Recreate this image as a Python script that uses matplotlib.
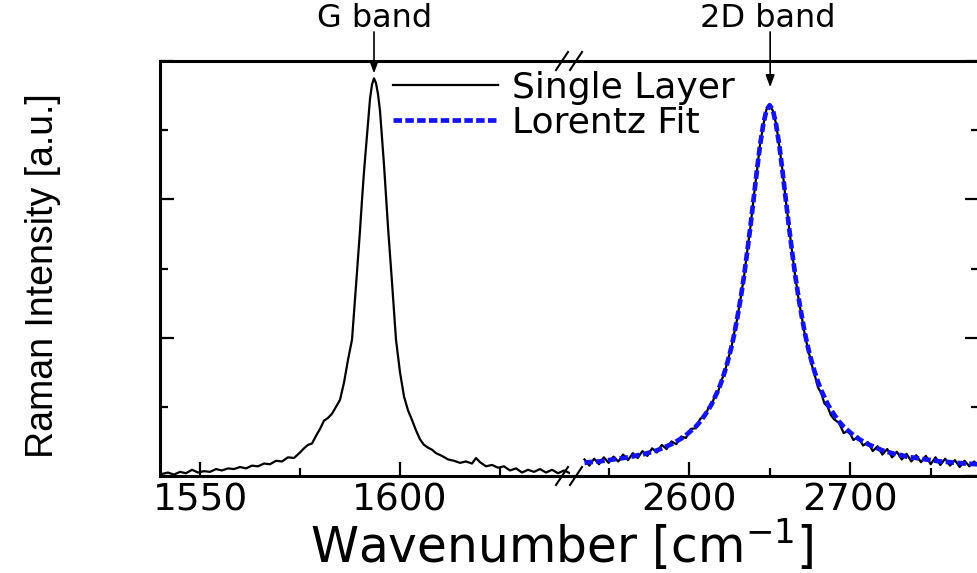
import matplotlib.pyplot as plt
from matplotlib.lines import Line2D
from matplotlib.ticker import MultipleLocator, NullFormatter

W, H = 977, 573

# G band, single layer spectrum (left part of the broken axis)
g_wavenumber = [1540.5, 1542, 1543.5, 1545, 1546.5, 1548, 1549.5, 1551, 1552.5, 1554,
                1555.5, 1557, 1558.5, 1560, 1561.5, 1563, 1564.5, 1566, 1567.5, 1569,
                1570.5, 1572, 1573.5, 1575, 1576, 1577, 1578, 1579, 1580, 1581,
                1582, 1583, 1584, 1585, 1586, 1587, 1588, 1589, 1590, 1590.5,
                1591, 1592, 1592.5, 1593, 1593.5, 1594, 1594.5, 1595, 1596, 1597,
                1598, 1599,
                1600, 1601, 1602, 1603, 1604, 1605, 1606, 1607, 1608, 1609,
                1610.5, 1612, 1613.5, 1615, 1616.5, 1618, 1619, 1620, 1621.5, 1623,
                1624.5, 1626, 1627.5, 1629, 1630.5, 1632, 1633.5, 1635, 1636.5, 1638,
                1639.5, 1641, 1642.5]
g_intensity = [0.03, 0.05, 0.02, 0.06, 0.04, 0.09, 0.05, 0.07, 0.06, 0.10,
               0.08, 0.11, 0.10, 0.13, 0.11, 0.15, 0.14, 0.18, 0.17, 0.22,
               0.21, 0.27, 0.26, 0.34, 0.40, 0.45, 0.47, 0.58, 0.68, 0.80,
               0.84, 0.90, 1.00, 1.10, 1.35, 1.68, 1.97, 2.75, 3.55, 3.99,
               4.40, 5.10, 5.45, 5.66, 5.75, 5.68, 5.52, 5.28, 4.50, 3.60,
               2.80, 1.97,
               1.50, 1.15, 0.95, 0.81, 0.66, 0.53, 0.45, 0.41, 0.38, 0.33,
               0.29, 0.24, 0.22, 0.19, 0.21, 0.18, 0.26, 0.20, 0.14, 0.16,
               0.12, 0.14, 0.08, 0.11, 0.05, 0.09, 0.06, 0.10, 0.05, 0.09,
               0.04, 0.08, 0.04]

# 2D band, single layer spectrum (right part)
d_wavenumber = [2535, 2538, 2541, 2544, 2547, 2550, 2553, 2556, 2559, 2562,
                2565, 2568, 2571, 2574, 2577, 2580, 2583, 2586, 2589, 2592,
                2595, 2598, 2601, 2604, 2607, 2610,
                2612, 2614, 2616, 2618, 2620, 2622, 2624, 2626, 2628, 2630,
                2632, 2634, 2636, 2638, 2640, 2642, 2644, 2646, 2648, 2650,
                2652, 2654, 2656, 2658, 2660, 2662, 2664, 2666, 2668, 2670,
                2672, 2674, 2676, 2678, 2680, 2682, 2684, 2686, 2688,
                2690, 2693, 2696, 2699, 2702, 2705, 2708, 2711, 2714, 2717,
                2720, 2723, 2726, 2729, 2732, 2735, 2738, 2741, 2744, 2747,
                2750, 2753, 2756, 2759, 2762, 2765, 2768, 2771, 2774, 2777, 2780]
d_intensity = [0.24, 0.15, 0.25, 0.17, 0.27, 0.19, 0.28, 0.21, 0.31, 0.23,
               0.33, 0.26, 0.36, 0.29, 0.40, 0.34, 0.45, 0.39, 0.50, 0.46,
               0.57, 0.55, 0.68, 0.69, 0.83, 0.86,
               0.99, 1.02, 1.17, 1.22, 1.38, 1.49, 1.68, 1.83, 2.07, 2.29,
               2.58, 2.87, 3.24, 3.59, 4.01, 4.39, 4.79, 5.07, 5.30, 5.36,
               5.28, 5.09, 4.77, 4.41, 3.99, 3.61, 3.22, 2.87, 2.55, 2.29,
               2.02, 1.82, 1.62, 1.46, 1.28, 1.20, 1.05, 1.00, 0.88,
               0.82, 0.77, 0.62, 0.66, 0.52, 0.57, 0.44, 0.49, 0.36, 0.43,
               0.31, 0.39, 0.27, 0.35, 0.24, 0.32, 0.21, 0.30, 0.20, 0.29,
               0.17, 0.27, 0.16, 0.25, 0.15, 0.23, 0.13, 0.22, 0.14, 0.21, 0.13]
# Lorentz fit of the 2D band, same wavenumbers
d_fit = [0.19, 0.20, 0.205, 0.21, 0.22, 0.23, 0.24, 0.25, 0.26, 0.27,
         0.283, 0.30, 0.31, 0.33, 0.35, 0.37, 0.40, 0.43, 0.46, 0.50,
         0.54, 0.59, 0.65, 0.71, 0.79, 0.89,
         0.96, 1.04, 1.14, 1.24, 1.36, 1.50, 1.66, 1.84, 2.05, 2.30,
         2.57, 2.88, 3.23, 3.60, 4.00, 4.40, 4.78, 5.08, 5.29, 5.36,
         5.29, 5.08, 4.78, 4.40, 4.00, 3.60, 3.23, 2.88, 2.57, 2.30,
         2.05, 1.84, 1.66, 1.50, 1.36, 1.24, 1.14, 1.04, 0.96,
         0.89, 0.79, 0.71, 0.65, 0.59, 0.54, 0.50, 0.46, 0.43, 0.40,
         0.37, 0.35, 0.33, 0.31, 0.30, 0.28, 0.27, 0.26, 0.25, 0.24,
         0.23, 0.22, 0.21, 0.205, 0.20, 0.19, 0.187, 0.18, 0.177, 0.173, 0.169]

g_peak = 1593.5
d_peak = 2650.3

BLUE = '#1414f0'
FONT = 'DejaVu Sans'


def px_rect(x0, y0, x1, y1):
    # pixel box (top-left origin) -> figure fraction rect
    return [x0 / W, 1 - y1 / H, (x1 - x0) / W, (y1 - y0) / H]


def style_axis(ax, xmajor, xminor):
    ax.set_ylim(0, 6)
    ax.yaxis.set_major_locator(MultipleLocator(2))
    ax.yaxis.set_minor_locator(MultipleLocator(1))
    ax.yaxis.set_major_formatter(NullFormatter())
    ax.xaxis.set_major_locator(MultipleLocator(xmajor))
    ax.xaxis.set_minor_locator(MultipleLocator(xminor))
    ax.tick_params(which='both', direction='in', width=1.6, top=False,
                   labelsize=27, pad=5)
    ax.tick_params(which='major', length=10)
    ax.tick_params(which='minor', length=6)
    for s in ax.spines.values():
        s.set_linewidth(2.2)
    for lab in ax.get_xticklabels():
        lab.set_family(FONT)


fig = plt.figure(figsize=(W / 100, H / 100), dpi=100)

axl = fig.add_axes(px_rect(160, 61, 570, 476))
axr = fig.add_axes(px_rect(570, 61, 979, 476))

axl.plot(g_wavenumber, g_intensity, color='black', lw=1.6)
axl.set_xlim(1540, 1642.5)
style_axis(axl, 50, 25)
axl.spines['right'].set_visible(False)
axl.tick_params(which='both', right=False)

axr.plot(d_wavenumber, d_intensity, color='black', lw=1.6)
axr.plot(d_wavenumber, d_fit, color=BLUE, lw=3.4, ls=(0, (1.8, 0.7)))
axr.set_xlim(2526, 2780)
style_axis(axr, 100, 50)
axr.spines['left'].set_visible(False)
axr.tick_params(which='both', left=False, right=True)

# axis break marks
for yb in (61, 476):
    for cx in (562, 576):
        fig.add_artist(Line2D([(cx - 6) / W, (cx + 6) / W],
                              [1 - (yb + 9) / H, 1 - (yb - 9) / H],
                              transform=fig.transFigure, color='black', lw=1.5))

# band labels with arrows
fig.text(375 / W, 1 - 27 / H, 'G band', ha='center', va='baseline',
         fontsize=23, family=FONT)
fig.text(768 / W, 1 - 27 / H, '2D band', ha='center', va='baseline',
         fontsize=23, family=FONT)
arrow = dict(arrowstyle='-|>,head_length=0.6,head_width=0.22', color='black',
             lw=1.2, mutation_scale=12, shrinkA=0, shrinkB=0)
axl.annotate('', xy=(g_peak, 5.82), xytext=(g_peak, 6.42), arrowprops=arrow,
             annotation_clip=False)
axr.annotate('', xy=(d_peak, 5.62), xytext=(d_peak, 6.42), arrowprops=arrow,
             annotation_clip=False)

handles = [Line2D([], [], color='black', lw=1.6),
           Line2D([], [], color=BLUE, lw=3.4, ls=(0, (1.8, 0.7)))]
fig.legend(handles, ['Single Layer', 'Lorentz Fit'], loc='upper left',
           bbox_to_anchor=(393 / W, 1 - 71 / H), frameon=False,
           prop={'family': FONT, 'size': 26}, handlelength=2.9,
           handletextpad=0.4, labelspacing=0.02, borderpad=0, borderaxespad=0)

fig.text(562 / W, 1 - 563 / H, 'Wavenumber [cm$^{-1}$]', ha='center',
         va='baseline', fontsize=35, family=FONT)
fig.text(43 / W, 1 - 276 / H, 'Raman Intensity [a.u.]', rotation=90,
         ha='center', va='center', fontsize=27, family='Liberation Sans')

fig.savefig('out.png', dpi=100)
